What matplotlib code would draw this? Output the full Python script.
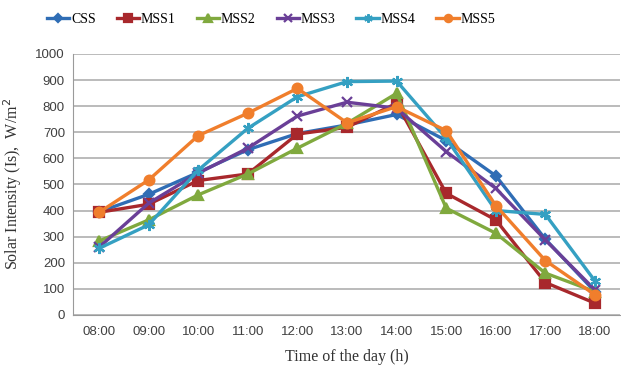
import matplotlib
matplotlib.use("Agg")
import matplotlib.pyplot as plt

hours = ["08:00", "09:00", "10:00", "11:00", "12:00", "13:00",
         "14:00", "15:00", "16:00", "17:00", "18:00"]

css = [395, 462, 546, 633, 695, 728, 768, 668, 533, 290, 89]
mss1 = [393, 424, 515, 540, 693, 719, 811, 466, 364, 124, 45]
mss2 = [283, 364, 460, 540, 639, 734, 849, 409, 313, 160, 89]
mss3 = [259, 428, 543, 639, 762, 815, 792, 626, 485, 287, 96]
mss4 = [255, 345, 555, 715, 836, 894, 896, 677, 400, 385, 130]
mss5 = [393, 517, 687, 773, 868, 736, 798, 706, 419, 208, 77]

series = [
    ("CSS", css, "#2f6db5", "D", 5),
    ("MSS1", mss1, "#a8282c", "s", 7),
    ("MSS2", mss2, "#80a93e", "^", 7),
    ("MSS3", mss3, "#6a3f97", "x", 7),
    ("MSS4", mss4, "#35a0c2", (6, 2, 0), 8),
    ("MSS5", mss5, "#f07e2c", "o", 7),
]

fig = plt.figure(figsize=(6.21, 3.67), dpi=100)
ax = fig.add_axes([0.118, 0.142, 0.88, 0.711])

x = range(len(hours))
for name, vals, color, marker, ms in series:
    ax.plot(x, vals, color=color, lw=2.4, marker=marker, markersize=ms,
            markeredgecolor=color, markeredgewidth=1.6, label=name)

ax.set_xlim(-0.52, 10.5)
ax.set_ylim(0, 1000)
ax.set_yticks(range(0, 1001, 100))
ax.set_xticks(list(x))
ax.set_xticklabels(hours)
ax.yaxis.grid(True, color="#b5b5b5", lw=1.3)
ax.set_axisbelow(True)
for side in ("top", "right"):
    ax.spines[side].set_visible(False)
for side in ("left", "bottom"):
    ax.spines[side].set_color("#9a9a9a")
ax.tick_params(length=0, pad=8, labelsize=9.5, colors="#404040",
               labelfontfamily="Liberation Sans")
ax.tick_params(axis="y", pad=6)

ax.set_ylabel("Solar Intensity (Is),  W/m$^2$", family="Liberation Serif",
              fontsize=11.5, color="#333333", labelpad=8)
ax.set_xlabel("Time of the day (h)", family="Liberation Serif",
              fontsize=11.5, color="#333333", labelpad=8)

# legend row sits left of centre, above the plot
fig.legend(loc="center left", bbox_to_anchor=(0.055, 0.948), ncol=6,
           frameon=False, handlelength=1.6, columnspacing=1.5,
           handletextpad=0.15, markerscale=0.75,
           prop={"family": "Liberation Serif", "size": 10})

fig.savefig("out.png", dpi=100)
